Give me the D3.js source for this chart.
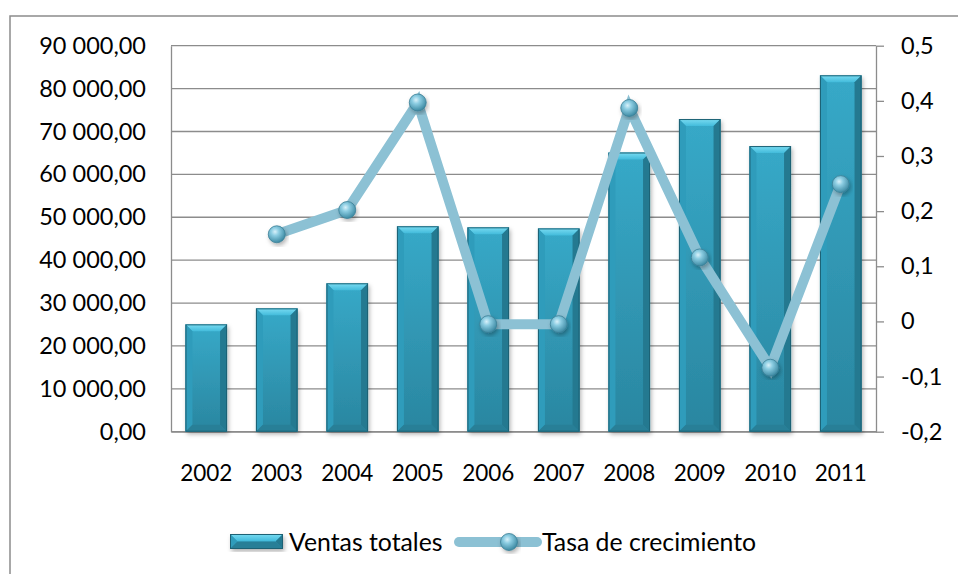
<!DOCTYPE html>
<html>
<head>
<meta charset="utf-8">
<script src="https://cdn.jsdelivr.net/npm/d3@7"></script>
<style>
  body { margin: 0; background: #fff; }
  svg text { font-family: Lato, "Open Sans", sans-serif; fill: #000; }
</style>
</head>
<body>
<div id="chart"></div>
<script>
var years = ["2002", "2003", "2004", "2005", "2006", "2007", "2008", "2009", "2010", "2011"];
var ventas = [25030, 28760, 34600, 47900, 47650, 47400, 65100, 72900, 66600, 83100];
var tasa = [null, 0.158, 0.202, 0.397, -0.005, -0.005, 0.387, 0.116, -0.084, 0.249];
var leftTicks = [0, 10000, 20000, 30000, 40000, 50000, 60000, 70000, 80000, 90000];
var rightTicks = [-0.2, -0.1, 0, 0.1, 0.2, 0.3, 0.4, 0.5];

var width = 958, height = 574;
var plot = { left: 171, right: 876, top: 45.7, bottom: 431.7 };

var svg = d3.select("#chart").append("svg")
    .attr("width", width)
    .attr("height", height);

// gradients
var defs = svg.append("defs");
var face = defs.append("linearGradient").attr("id", "face")
    .attr("x1", 0).attr("y1", 0).attr("x2", 0).attr("y2", 1);
face.append("stop").attr("offset", "0%").attr("stop-color", "#37a9c8");
face.append("stop").attr("offset", "100%").attr("stop-color", "#2a86a0");
var bevelTop = defs.append("linearGradient").attr("id", "bevelTop")
    .attr("x1", 0).attr("y1", 0).attr("x2", 0).attr("y2", 1);
bevelTop.append("stop").attr("offset", "0%").attr("stop-color", "#7adcf2");
bevelTop.append("stop").attr("offset", "100%").attr("stop-color", "#42bbdb");
var ball = defs.append("radialGradient").attr("id", "ball")
    .attr("cx", "40%").attr("cy", "35%").attr("r", "65%");
ball.append("stop").attr("offset", "0%").attr("stop-color", "#d8f1fa");
ball.append("stop").attr("offset", "35%").attr("stop-color", "#8ccde2");
ball.append("stop").attr("offset", "100%").attr("stop-color", "#3d8aa3");
var shadow = defs.append("filter").attr("id", "shadow")
    .attr("x", "-20%").attr("y", "-20%").attr("width", "140%").attr("height", "140%");
shadow.append("feDropShadow").attr("dx", 1.5).attr("dy", 2.5).attr("stdDeviation", 2)
    .attr("flood-color", "#000").attr("flood-opacity", 0.3);

// outer chart border
svg.append("rect")
    .attr("x", 10).attr("y", 16)
    .attr("width", 990).attr("height", 600)
    .attr("fill", "none").attr("stroke", "#8c8c8c").attr("stroke-width", 1.5);

// Scales
var x = d3.scaleBand()
    .domain(years)
    .range([plot.left, plot.right])
    .paddingInner(0.41)
    .paddingOuter(0.205);
var yL = d3.scaleLinear().domain([0, 90000]).range([plot.bottom, plot.top]);
var yR = d3.scaleLinear().domain([-0.2, 0.5]).range([plot.bottom, plot.top]);
var xc = function (d) { return x(d) + x.bandwidth() / 2; };

// gridlines
svg.append("g").selectAll("line")
    .data(leftTicks)
    .enter().append("line")
    .attr("x1", plot.left).attr("x2", plot.right)
    .attr("y1", function (d) { return yL(d); })
    .attr("y2", function (d) { return yL(d); })
    .attr("stroke", "#8c8c8c").attr("stroke-width", 1.3);

var fmtL = function (d) {
    return d3.format(",.2f")(d).replace(/,/g, " ").replace(".", ",");
};
var fmtR = function (d) { return String(d).replace(".", ","); };

// Left axis
var axL = svg.append("g")
    .attr("transform", "translate(" + plot.left + ",0)")
    .call(d3.axisLeft(yL).tickValues(leftTicks).tickFormat(fmtL).tickSize(0).tickPadding(25));
axL.select(".domain").attr("stroke", "#8c8c8c").attr("stroke-width", 1.3);
axL.selectAll("text").style("font-size", "23.5px");

// Right axis
var axR = svg.append("g")
    .attr("transform", "translate(" + plot.right + ",0)")
    .call(d3.axisRight(yR).tickValues(rightTicks).tickFormat(fmtR).tickSizeInner(8).tickSizeOuter(0).tickPadding(17));
axR.select(".domain").attr("stroke", "#8c8c8c").attr("stroke-width", 1.3);
axR.selectAll("line").attr("stroke", "#8c8c8c").attr("stroke-width", 1.3);
axR.selectAll("text").style("font-size", "23.5px");

// Bottom axis
var axB = svg.append("g")
    .attr("transform", "translate(0," + plot.bottom + ")")
    .call(d3.axisBottom(x).tickSize(0).tickPadding(33));
axB.select(".domain").attr("stroke", "#8c8c8c").attr("stroke-width", 1.3);
axB.selectAll("text").style("font-size", "22.5px");

// Bars with bevel
function drawBar(g, bx, by, bw, bh) {
    var b = Math.min(7, bh / 2);
    g.append("rect")
        .attr("x", bx).attr("y", by).attr("width", bw).attr("height", bh)
        .attr("fill", "url(#face)").attr("filter", "url(#shadow)");
    g.append("path")
        .attr("d", "M" + bx + "," + by + "H" + (bx + bw) + "L" + (bx + bw - b) + "," + (by + b) +
            "H" + (bx + b) + "Z")
        .attr("fill", "url(#bevelTop)");
    g.append("path")
        .attr("d", "M" + bx + "," + by + "L" + (bx + b) + "," + (by + b) + "V" + (by + bh - b) +
            "L" + bx + "," + (by + bh) + "Z")
        .attr("fill", "#2f9cbb");
    g.append("path")
        .attr("d", "M" + (bx + bw) + "," + by + "L" + (bx + bw - b) + "," + (by + b) + "V" + (by + bh - b) +
            "L" + (bx + bw) + "," + (by + bh) + "Z")
        .attr("fill", "#247990");
    g.append("path")
        .attr("d", "M" + bx + "," + (by + bh) + "L" + (bx + b) + "," + (by + bh - b) + "H" + (bx + bw - b) +
            "L" + (bx + bw) + "," + (by + bh) + "Z")
        .attr("fill", "#287f97");
    g.append("rect")
        .attr("x", bx + 0.5).attr("y", by + 0.5).attr("width", bw - 1).attr("height", bh - 1)
        .attr("fill", "none").attr("stroke", "#1d6174").attr("stroke-width", 1);
}

var bars = svg.append("g");
ventas.forEach(function (v, i) {
    var g = bars.append("g");
    drawBar(g, x(years[i]), yL(v), x.bandwidth(), yL(0) - yL(v));
});

// Line
var pts = years.map(function (y, i) { return { year: y, val: tasa[i] }; })
    .filter(function (d) { return d.val !== null; });
var line = d3.line()
    .x(function (d) { return xc(d.year); })
    .y(function (d) { return yR(d.val); });
svg.append("path")
    .datum(pts)
    .attr("d", line)
    .attr("fill", "none")
    .attr("stroke", "#8cc1d4")
    .attr("stroke-width", 10)
    .attr("stroke-linejoin", "miter");

function drawBall(g, cx, cy) {
    g.append("circle")
        .attr("cx", cx).attr("cy", cy).attr("r", 8.5)
        .attr("fill", "url(#ball)")
        .attr("stroke", "#3b7f95").attr("stroke-width", 0.8)
        .attr("filter", "url(#shadow)");
}
var balls = svg.append("g");
pts.forEach(function (d) { drawBall(balls, xc(d.year), yR(d.val)); });

// Legend
var leg = svg.append("g");
drawBar(leg.append("g"), 230, 534, 53, 15);
leg.append("text").attr("x", 289).attr("y", 542).attr("dy", "0.36em")
    .style("font-size", "24.8px").text("Ventas totales");
leg.append("line")
    .attr("x1", 459).attr("x2", 537).attr("y1", 542).attr("y2", 542)
    .attr("stroke", "#8cc1d4").attr("stroke-width", 10).attr("stroke-linecap", "round");
drawBall(leg, 509, 542);
leg.append("text").attr("x", 542).attr("y", 542).attr("dy", "0.36em")
    .style("font-size", "24.8px").text("Tasa de crecimiento");
</script>
</body>
</html>
